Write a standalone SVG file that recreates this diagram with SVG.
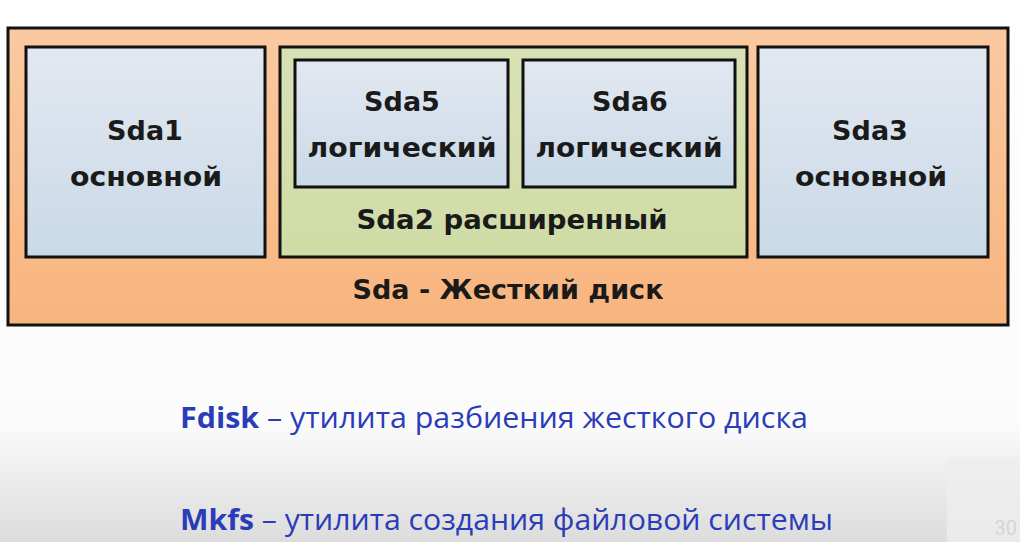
<svg xmlns="http://www.w3.org/2000/svg" width="1020" height="542" viewBox="0 0 1020 542">
<defs>
<linearGradient id="bg" x1="0" y1="0" x2="0" y2="1">
<stop offset="0" stop-color="#ffffff"/>
<stop offset="0.78" stop-color="#fbfbfb"/>
<stop offset="1" stop-color="#dcdcdc"/>
</linearGradient>
<linearGradient id="orange" x1="0" y1="0" x2="0" y2="1">
<stop offset="0" stop-color="#fbc9a1"/>
<stop offset="1" stop-color="#f8b47d"/>
</linearGradient>
<linearGradient id="blue" x1="0" y1="0" x2="0" y2="1">
<stop offset="0" stop-color="#e3e8f1"/>
<stop offset="1" stop-color="#c9d9e7"/>
</linearGradient>
<linearGradient id="green" x1="0" y1="0" x2="0" y2="1">
<stop offset="0" stop-color="#d8e1b6"/>
<stop offset="1" stop-color="#d0dca6"/>
</linearGradient>
</defs>
<style>
.box{stroke:#111;stroke-width:3}
.lbl{font-family:"DejaVu Sans",Verdana,sans-serif;font-weight:bold;font-size:27px;fill:#1a1a1a;text-anchor:middle}
.note{font-family:"Open Sans","Liberation Sans",sans-serif;font-size:29px;fill:#2b3cb8}
.note tspan.b{font-weight:bold}
</style>
<rect x="0" y="0" width="1020" height="542" fill="url(#bg)"/>
<g id="disk">
<rect class="box" x="8" y="28" width="1000" height="297" fill="url(#orange)"/>
<text class="lbl" x="508" y="299" textLength="311" lengthAdjust="spacingAndGlyphs">Sda - Жесткий диск</text>
</g>
<g id="sda1">
<rect class="box" x="26" y="47" width="239" height="210" fill="url(#blue)"/>
<text class="lbl" x="145" y="140">Sda1</text>
<text class="lbl" x="146" y="186" textLength="152" lengthAdjust="spacingAndGlyphs">основной</text>
</g>
<g id="sda2">
<rect class="box" x="280" y="47" width="467" height="210" fill="url(#green)"/>
<text class="lbl" x="512" y="229" textLength="311" lengthAdjust="spacingAndGlyphs">Sda2 расширенный</text>
</g>
<g id="sda5">
<rect class="box" x="295" y="60" width="213" height="127" fill="url(#blue)"/>
<text class="lbl" x="402" y="111">Sda5</text>
<text class="lbl" x="402" y="157" textLength="189" lengthAdjust="spacingAndGlyphs">логический</text>
</g>
<g id="sda6">
<rect class="box" x="523" y="60" width="212" height="127" fill="url(#blue)"/>
<text class="lbl" x="630" y="111">Sda6</text>
<text class="lbl" x="629" y="157" textLength="187" lengthAdjust="spacingAndGlyphs">логический</text>
</g>
<g id="sda3">
<rect class="box" x="758" y="47" width="230" height="210" fill="url(#blue)"/>
<text class="lbl" x="870" y="140">Sda3</text>
<text class="lbl" x="871" y="186" textLength="152" lengthAdjust="spacingAndGlyphs">основной</text>
</g>
<g id="connectors"></g>
<g id="notes">
<text class="note" x="180" y="428" textLength="628" lengthAdjust="spacingAndGlyphs"><tspan class="b">Fdisk</tspan> – утилита разбиения жесткого диска</text>
<text class="note" x="180" y="530" textLength="653" lengthAdjust="spacingAndGlyphs"><tspan class="b">Mkfs</tspan> – утилита создания файловой системы</text>
</g>
<g id="thumb">
<rect x="947" y="457" width="73" height="85" fill="#eeeeee" opacity="0.8"/>
<text x="1017" y="535" text-anchor="end" font-family="Roboto,sans-serif" font-size="20" fill="#d6d6d6">30</text>
</g>
</svg>
